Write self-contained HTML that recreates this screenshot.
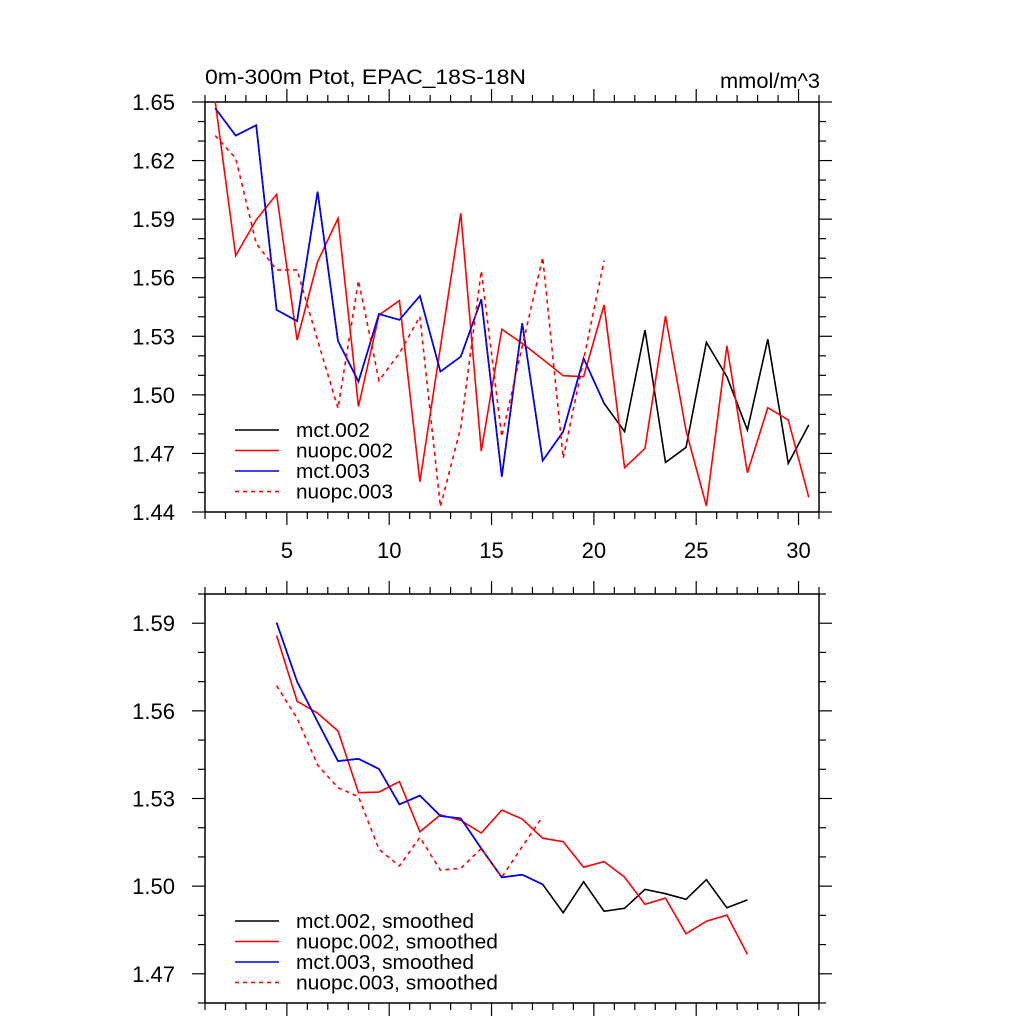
<!DOCTYPE html>
<html><head><meta charset="utf-8"><style>
html,body{margin:0;padding:0;background:#fff;}
svg{display:block;font-family:"Liberation Sans",sans-serif;}
</style></head><body>
<svg id="chart" width="1024" height="1024" viewBox="0 0 1024 1024" xmlns="http://www.w3.org/2000/svg">
<rect x="0" y="0" width="1024" height="1024" fill="#fff"/>
<text x="205" y="84" font-size="21" textLength="321" lengthAdjust="spacingAndGlyphs">0m-300m Ptot, EPAC_18S-18N</text>
<text x="720" y="88" font-size="21" textLength="100" lengthAdjust="spacingAndGlyphs">mmol/m^3</text>
<g id="top"></g><g id="bot"></g>
</svg>
<script>
// ---- data ----
const topX = [1.5,2.5,3.5,4.5,5.5,6.5,7.5,8.5,9.5,10.5,11.5,12.5,13.5,14.5,15.5,16.5,17.5,18.5,19.5,20.5,21.5,22.5,23.5,24.5,25.5,26.5,27.5,28.5,29.5,30.5];
const mct002 = [1.6468,1.6328,1.6381,1.5435,1.5378,1.6041,1.5276,1.5068,1.5414,1.5384,1.5507,1.5119,1.5196,1.5489,1.4581,1.5367,1.4663,1.4812,1.5187,1.4957,1.4812,1.5332,1.4654,1.4731,1.5269,1.5093,1.4820,1.5285,1.4649,1.4846];
const nuopc002 = [1.6502,1.5713,1.5896,1.6027,1.5281,1.5682,1.5904,1.4940,1.5409,1.5483,1.4555,1.5244,1.5930,1.4712,1.5336,1.5264,1.5182,1.5098,1.5093,1.5460,1.4627,1.4726,1.5404,1.4817,1.4431,1.5252,1.4601,1.4934,1.4871,1.4475];
const mct003 = [1.6468,1.6328,1.6381,1.5435,1.5378,1.6041,1.5276,1.5068,1.5414,1.5384,1.5507,1.5119,1.5196,1.5489,1.4581,1.5367,1.4663,1.4812,1.5187,1.4957];
const nuopc003 = [1.6328,1.6212,1.5776,1.5640,1.5640,1.5280,1.4931,1.5585,1.5073,1.5213,1.5401,1.4427,1.4834,1.5635,1.4786,1.5247,1.5704,1.4675,1.5179,1.5688];
const botX = [4.5,5.5,6.5,7.5,8.5,9.5,10.5,11.5,12.5,13.5,14.5,15.5,16.5,17.5,18.5,19.5,20.5,21.5,22.5,23.5,24.5,25.5,26.5,27.5];
const mct002s = [1.5902,1.5700,1.5563,1.5428,1.5436,1.5401,1.5280,1.5310,1.5240,1.5232,1.5129,1.5030,1.5039,1.5006,1.4909,1.5015,1.4914,1.4924,1.4989,1.4974,1.4955,1.5022,1.4926,1.4953];
const nuopc002s = [1.5858,1.5633,1.5592,1.5531,1.5320,1.5322,1.5358,1.5186,1.5244,1.5225,1.5182,1.5260,1.5230,1.5164,1.5152,1.5065,1.5084,1.5031,1.4938,1.4959,1.4837,1.4880,1.4901,1.4767];
const mct003s = [1.5902,1.5700,1.5563,1.5428,1.5436,1.5401,1.5280,1.5310,1.5240,1.5232,1.5129,1.5030,1.5039,1.5006];
const nuopc003s = [1.5686,1.5575,1.5415,1.5337,1.5306,1.5126,1.5069,1.5167,1.5055,1.5061,1.5129,1.5031,1.5135,1.5238];
const xTickLabels = ["5","10","15","20","25","30"];
const topYTicks = ["1.44","1.47","1.50","1.53","1.56","1.59","1.62","1.65"];
const botYTicks = ["1.47","1.50","1.53","1.56","1.59"];
const topLegend = ["mct.002","nuopc.002","mct.003","nuopc.003"];
const botLegend = ["mct.002, smoothed","nuopc.002, smoothed","mct.003, smoothed","nuopc.003, smoothed"];

const NS="http://www.w3.org/2000/svg";
function mk(tag,attrs,parent){const e=document.createElementNS(NS,tag);for(const k in attrs)e.setAttribute(k,attrs[k]);parent.appendChild(e);return e;}

function panel(g,cfg){
  const L=205,R=819,T=cfg.top,B=cfg.bottom,xmin=1,xmax=31;
  const sx=v=>L+(v-xmin)/(xmax-xmin)*(R-L);
  const sy=v=>B-(v-cfg.ymin)/(cfg.ymax-cfg.ymin)*(B-T);
  const fr=mk('rect',{x:L,y:T,width:R-L,height:B-T,fill:'none',stroke:'#000','stroke-width':1.5},g);
  
  
  for(let v=1;v<=31;v++){
    const major=(v%5===0); const len=major?13:7; const x=sx(v);
    const t1=mk('line',{x1:x,y1:B,x2:x,y2:B+len,stroke:'#000','stroke-width':1.2},g);
    
    
    const t2=mk('line',{x1:x,y1:T,x2:x,y2:T-len,stroke:'#000','stroke-width':1.2},g);
    
    
  }
  if(cfg.xlabels){
    xTickLabels.forEach(s=>{
      const t=mk('text',{x:sx(+s),y:B+46,'font-size':22,'text-anchor':'middle'},g);
      t.textContent=s;
      
      
    });
  }
  const n=Math.round((cfg.ymax-cfg.ymin)/0.01);
  for(let i=0;i<=n;i++){
    const v=cfg.ymin+i*0.01; const y=sy(v);
    const major=cfg.yticks.some(s=>Math.abs(+s-v)<1e-6); const len=major?13:7;
    const a=mk('line',{x1:L,y1:y,x2:L-len,y2:y,stroke:'#000','stroke-width':1.2},g);
    
    
    const b=mk('line',{x1:R,y1:y,x2:R+len,y2:y,stroke:'#000','stroke-width':1.2},g);
    
    
  }
  cfg.yticks.forEach(s=>{
    const t=mk('text',{x:175,y:sy(+s)+8,'font-size':22,'text-anchor':'end'},g);
    t.textContent=s;
    
    
  });
  cfg.series.forEach(sr=>{
    const pts=sr.data.map((v,i)=>sx(cfg.x[i]).toFixed(1)+','+sy(v).toFixed(1)).join(' ');
    const p=mk('polyline',{points:pts,fill:'none',stroke:sr.color,'stroke-width':1.6,'stroke-linejoin':'miter'},g);
    if(sr.dash)p.setAttribute('stroke-dasharray','4,4');
    
    
  });
  cfg.series.forEach((sr,i)=>{
    const y=cfg.legY+i*20.5;
    const l=mk('line',{x1:235,y1:y,x2:279,y2:y,stroke:sr.color,'stroke-width':1.6},g);
    if(sr.dash)l.setAttribute('stroke-dasharray','4,4');
    
    
    const t=mk('text',{x:296,y:y+7,'font-size':20,textLength:cfg.legW[i],lengthAdjust:'spacingAndGlyphs'},g);
    t.textContent=cfg.legend[i];
    
    
  });
}
panel(document.getElementById('top'),{name:'top-panel',top:102,bottom:512,ymin:1.44,ymax:1.65,yticks:topYTicks,xlabels:true,x:topX,legY:430,legend:topLegend,legW:[74,97,74,97],
  series:[{name:'mct002-line',data:mct002,color:'#000'},{name:'nuopc002-line',data:nuopc002,color:'#f00'},{name:'mct003-line',data:mct003,color:'#00f'},{name:'nuopc003-line',data:nuopc003,color:'#f00',dash:true}]});
panel(document.getElementById('bot'),{name:'bottom-panel',top:594,bottom:1003,ymin:1.46,ymax:1.60,yticks:botYTicks,xlabels:false,x:botX,legY:921,legend:botLegend,legW:[178,202,178,202],
  series:[{name:'mct002-smoothed-line',data:mct002s,color:'#000'},{name:'nuopc002-smoothed-line',data:nuopc002s,color:'#f00'},{name:'mct003-smoothed-line',data:mct003s,color:'#00f'},{name:'nuopc003-smoothed-line',data:nuopc003s,color:'#f00',dash:true}]});
</script>
</body></html>
